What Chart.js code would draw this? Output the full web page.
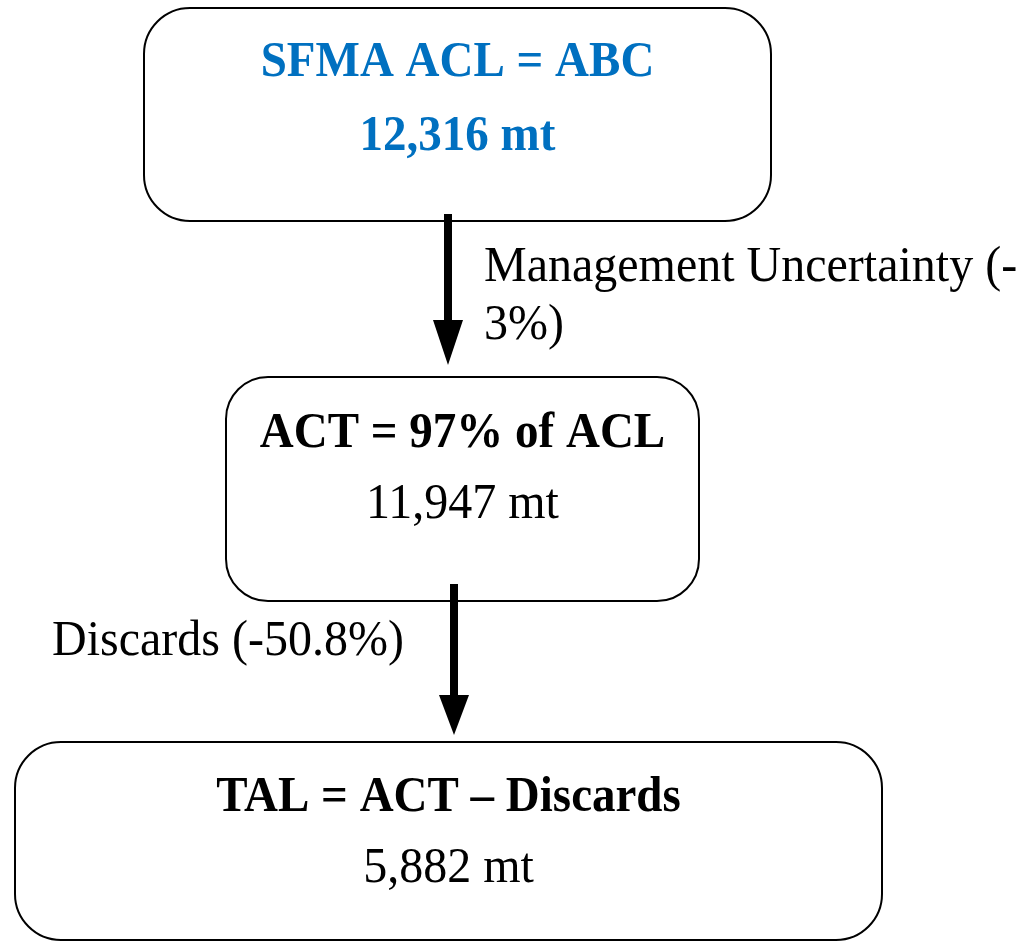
<!DOCTYPE html>
<html>
<head>
<meta charset="utf-8">
<script src="https://cdn.jsdelivr.net/npm/chart.js@4/dist/chart.umd.min.js"></script>
<style>
  html, body { margin: 0; padding: 0; background: #ffffff; }
  #wrap { width: 1019px; height: 944px; }
</style>
</head>
<body>
<div id="wrap"><canvas id="c" width="1019" height="944"></canvas></div>
<script>
// ---- data ----
const nodeTitles = ['SFMA ACL = ABC', 'ACT = 97% of ACL', 'TAL = ACT \u2013 Discards'];
const nodeValues = [12316, 11947, 5882];
const nodeUnit = 'mt';
const edgeNames = ['Management Uncertainty', 'Discards'];
const edgePercents = [-3, -50.8];

// ---- layout (positions / sizes / styles, in scale units) ----
const layout = {
  boxes: [
    { x0: 144, x1: 771, y0: 8,   y1: 221, r: 46, titleY: 76,  valueY: 150, titleColor: '#0070C0', valueColor: '#0070C0', valueBold: true },
    { x0: 226, x1: 699, y0: 377, y1: 601, r: 42, titleY: 447, valueY: 518, titleColor: '#000000', valueColor: '#000000', valueBold: false },
    { x0: 15,  x1: 882, y0: 742, y1: 940, r: 46, titleY: 811, valueY: 882, titleColor: '#000000', valueColor: '#000000', valueBold: false }
  ],
  arrows: [
    { x: 448, y0: 214, headY: 320, tip: 365, label: { x: 484, y: 281, maxW: 535, lineH: 58 } },
    { x: 454, y0: 584, headY: 695, tip: 735, label: { x: 52,  y: 655, maxW: 380, lineH: 58 } }
  ],
  titleFont: 'bold 47px "Liberation Serif", "Times New Roman", serif',
  textFont: '48px "Liberation Serif", "Times New Roman", serif',
  textStretchY: 1.07
};

function wrapLines(ctx, text, maxW) {
  // break opportunities after spaces and hyphens
  const tokens = text.match(/[^\s-]*[\s-]?/g).filter(t => t.length);
  const lines = [];
  let cur = '';
  for (const t of tokens) {
    const test = cur + t;
    if (cur && ctx.measureText(test.trimEnd()).width > maxW) {
      lines.push(cur.trimEnd());
      cur = t;
    } else cur = test;
  }
  if (cur) lines.push(cur.trimEnd());
  return lines;
}

function drawText(ctx, txt, x, y) {
  ctx.save();
  ctx.translate(x, y);
  ctx.scale(1, layout.textStretchY);
  ctx.fillText(txt, 0, 0);
  ctx.restore();
}

const flowPlugin = {
  id: 'flow',
  afterDraw(chart) {
    const ctx = chart.ctx;
    const xs = chart.scales.x, ys = chart.scales.y;
    const X = v => xs.getPixelForValue(v);
    const Y = v => ys.getPixelForValue(v);
    ctx.save();
    // boxes
    layout.boxes.forEach((b, i) => {
      const x0 = X(b.x0), x1 = X(b.x1), y0 = Y(b.y0), y1 = Y(b.y1);
      ctx.beginPath();
      ctx.roundRect(x0, y0, x1 - x0, y1 - y0, b.r);
      ctx.fillStyle = '#ffffff';
      ctx.fill();
      ctx.lineWidth = 2;
      ctx.strokeStyle = '#000000';
      ctx.stroke();
      const cx = (x0 + x1) / 2;
      ctx.textAlign = 'center';
      ctx.textBaseline = 'alphabetic';
      ctx.font = layout.titleFont;
      ctx.fillStyle = b.titleColor;
      drawText(ctx, nodeTitles[i], cx, Y(b.titleY));
      ctx.font = b.valueBold ? layout.titleFont : layout.textFont;
      ctx.fillStyle = b.valueColor;
      drawText(ctx, nodeValues[i].toLocaleString('en-US') + ' ' + nodeUnit, cx, Y(b.valueY));
    });
    // arrows
    layout.arrows.forEach((a, i) => {
      const x = X(a.x);
      ctx.fillStyle = '#000000';
      ctx.fillRect(x - 4, Y(a.y0), 8, Y(a.headY) - Y(a.y0) + 1);
      ctx.beginPath();
      ctx.moveTo(x - 15, Y(a.headY));
      ctx.lineTo(x + 15, Y(a.headY));
      ctx.lineTo(x, Y(a.tip));
      ctx.closePath();
      ctx.fill();
      ctx.font = layout.textFont;
      ctx.textAlign = 'left';
      ctx.textBaseline = 'alphabetic';
      const txt = edgeNames[i] + ' (' + edgePercents[i] + '%)';
      const lines = wrapLines(ctx, txt, a.label.maxW);
      lines.forEach((ln, k) => drawText(ctx, ln, X(a.label.x), Y(a.label.y + k * a.label.lineH)));
    });
    ctx.restore();
  }
};

new Chart(document.getElementById('c'), {
  type: 'scatter',
  data: { datasets: [{ data: [], pointRadius: 0 }] },
  options: {
    responsive: false,
    animation: false,
    layout: { padding: 0 },
    plugins: { legend: { display: false }, tooltip: { enabled: false } },
    scales: {
      x: { type: 'linear', min: 0, max: 1019, display: false },
      y: { type: 'linear', min: 0, max: 944, reverse: true, display: false }
    }
  },
  plugins: [flowPlugin]
});
</script>
</body>
</html>
